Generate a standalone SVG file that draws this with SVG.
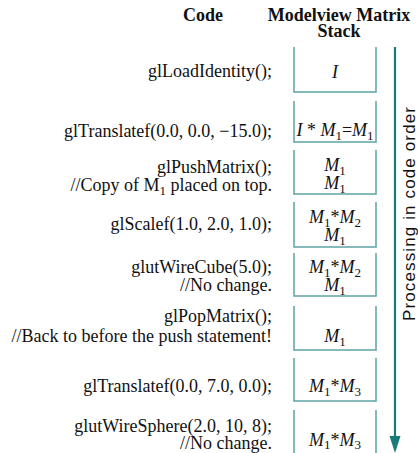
<svg xmlns="http://www.w3.org/2000/svg" width="418" height="453" viewBox="0 0 418 453">
<style>
.hd{font-family:"Liberation Serif","Times New Roman",serif;font-size:18px;font-weight:bold;fill:#111;text-anchor:middle}
.code{font-family:"Liberation Serif","Times New Roman",serif;font-size:18px;fill:#111;text-anchor:end}
.mx{font-family:"Liberation Serif","Times New Roman",serif;font-size:18px;fill:#111;text-anchor:middle}
.it{font-style:italic}
.sub{font-size:13px;font-style:normal}
.box{fill:none;stroke:#5fa3a3;stroke-width:1.5}
.arr{stroke:#1a7a7a;stroke-width:2.2;fill:none}
.ah{fill:#1a7a7a}
.side{font-family:"Liberation Sans",Arial,sans-serif;font-size:17px;fill:#111;text-anchor:middle}
</style>
<rect width="418" height="453" fill="#fff"/>
<g id="headers">
<text class="hd" x="203" y="21">Code</text>
<text class="hd" x="339" y="21">Modelview Matrix</text>
<text class="hd" x="339" y="37">Stack</text>
</g>
<g id="n1">
<text class="code" x="272" y="77">glLoadIdentity();</text>
<path class="box" d="M294,47V92H376V47"/>
<text class="mx it" x="335" y="78">I</text>
</g>
<g id="n2">
<text class="code" x="272" y="137">glTranslatef(0.0, 0.0, −15.0);</text>
<path class="box" d="M294,101V142H376V101"/>
<text class="mx" x="335" y="136"><tspan class="it">I</tspan> * <tspan class="it">M</tspan><tspan class="sub" dy="4">1</tspan><tspan dy="-4">=</tspan><tspan class="it">M</tspan><tspan class="sub" dy="4">1</tspan></text>
</g>
<g id="n3">
<text class="code" x="272" y="173">glPushMatrix();</text>
<text class="code" x="272" y="191">//Copy of M<tspan class="sub" dy="4">1</tspan><tspan dy="-4"> placed on top.</tspan></text>
<path class="box" d="M294,150V194H376V150"/>
<text class="mx" x="335" y="171"><tspan class="it">M</tspan><tspan class="sub" dy="4">1</tspan></text>
<text class="mx" x="335" y="189"><tspan class="it">M</tspan><tspan class="sub" dy="4">1</tspan></text>
</g>
<g id="n4">
<text class="code" x="272" y="230">glScalef(1.0, 2.0, 1.0);</text>
<path class="box" d="M294,202V247H376V202"/>
<text class="mx" x="335" y="223"><tspan class="it">M</tspan><tspan class="sub" dy="4">1</tspan><tspan dy="-4">*</tspan><tspan class="it">M</tspan><tspan class="sub" dy="4">2</tspan></text>
<text class="mx" x="335" y="241"><tspan class="it">M</tspan><tspan class="sub" dy="4">1</tspan></text>
</g>
<g id="n5">
<text class="code" x="272" y="273">glutWireCube(5.0);</text>
<text class="code" x="272" y="291">//No change.</text>
<path class="box" d="M294,253V296H376V253"/>
<text class="mx" x="335" y="273"><tspan class="it">M</tspan><tspan class="sub" dy="4">1</tspan><tspan dy="-4">*</tspan><tspan class="it">M</tspan><tspan class="sub" dy="4">2</tspan></text>
<text class="mx" x="335" y="291"><tspan class="it">M</tspan><tspan class="sub" dy="4">1</tspan></text>
</g>
<g id="n6">
<text class="code" x="272" y="322">glPopMatrix();</text>
<text class="code" x="272" y="342">//Back to before the push statement!</text>
<path class="box" d="M294,306V350H376V306"/>
<text class="mx" x="335" y="342"><tspan class="it">M</tspan><tspan class="sub" dy="4">1</tspan></text>
</g>
<g id="n7">
<text class="code" x="272" y="392">glTranslatef(0.0, 7.0, 0.0);</text>
<path class="box" d="M294,358V401H376V358"/>
<text class="mx" x="335" y="392"><tspan class="it">M</tspan><tspan class="sub" dy="4">1</tspan><tspan dy="-4">*</tspan><tspan class="it">M</tspan><tspan class="sub" dy="4">3</tspan></text>
</g>
<g id="n8">
<text class="code" x="272" y="432">glutWireSphere(2.0, 10, 8);</text>
<text class="code" x="272" y="449">//No change.</text>
<path class="box" d="M294,410V453M376,453V410"/>
<text class="mx" x="335" y="446"><tspan class="it">M</tspan><tspan class="sub" dy="3">1</tspan><tspan dy="-3">*</tspan><tspan class="it">M</tspan><tspan class="sub" dy="3">3</tspan></text>
</g>
<g id="connectors">
<line class="arr" x1="395" y1="47" x2="395" y2="440"/>
<polygon class="ah" points="389.5,436 400.5,436 395,453"/>
<text class="side" transform="translate(415,214) rotate(-90)" textLength="214" lengthAdjust="spacing">Processing in code order</text>
</g>
</svg>
